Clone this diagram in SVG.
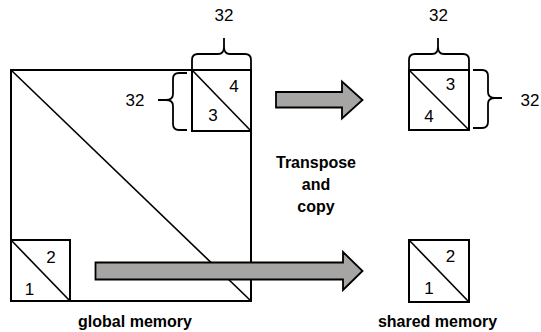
<svg xmlns="http://www.w3.org/2000/svg" width="541" height="332" viewBox="0 0 541 332">
  <style>
    .box { fill: #ffffff; stroke: #000000; stroke-width: 2; }
    .diag { fill: none; stroke: #000000; stroke-width: 1.6; }
    .brace { fill: none; stroke: #000000; stroke-width: 1.8; stroke-linejoin: round; }
    .num { font-family: "Liberation Sans", Arial, sans-serif; font-size: 17px; fill: #000000; text-anchor: middle; }
    .cap { font-family: "Liberation Sans", Arial, sans-serif; font-size: 16px; font-weight: bold; fill: #000000; text-anchor: middle; }
    .arrow { fill: #a7a4a4; stroke: #000000; stroke-width: 1.8; stroke-linejoin: miter; }
  </style>

  <!-- global memory matrix -->
  <g id="global-memory">
    <rect class="box" x="11" y="70" width="240" height="231"/>
    <line class="diag" x1="11" y1="70" x2="251" y2="301"/>
    <text class="cap" x="135" y="327">global memory</text>
  </g>

  <!-- tile 3/4 in the top-right corner of global memory -->
  <g id="global-tile-34">
    <rect class="box" x="192" y="70" width="59" height="61"/>
    <line class="diag" x1="192" y1="70" x2="251" y2="131"/>
    <text class="num" x="234" y="92">4</text>
    <text class="num" x="213" y="121">3</text>
    <path class="brace" d="M192,69 L192,60 Q192,54 198,54 L218,54 Q224,54 224,47 L224,38 M224,47 Q224,54 230,54 L245,54 Q251,54 251,60 L251,69"/>
    <text class="num" x="224" y="21">32</text>
    <path class="brace" d="M187,73 L179,73 Q173,73 173,79 L173,94 Q173,100 166,100 L158,100 M166,100 Q173,100 173,106 L173,124 Q173,130 179,130 L187,130"/>
    <text class="num" x="135" y="106">32</text>
  </g>

  <!-- tile 1/2 in the bottom-left corner of global memory -->
  <g id="global-tile-12">
    <rect class="box" x="11" y="240" width="59" height="61"/>
    <line class="diag" x1="11" y1="240" x2="70" y2="301"/>
    <text class="num" x="51" y="263">2</text>
    <text class="num" x="29.5" y="295">1</text>
  </g>

  <!-- shared memory tile holding 3/4 transposed -->
  <g id="shared-tile-34">
    <rect class="box" x="409" y="70" width="60" height="60"/>
    <line class="diag" x1="409" y1="70" x2="469" y2="130"/>
    <text class="num" x="450.5" y="90">3</text>
    <text class="num" x="429" y="122">4</text>
    <path class="brace" d="M409,69 L409,60 Q409,54 415,54 L432,54 Q438,54 438,47 L438,38 M438,47 Q438,54 444,54 L463,54 Q469,54 469,60 L469,69"/>
    <text class="num" x="438.5" y="21">32</text>
    <path class="brace" d="M473,70 L482,70 Q488,70 488,76 L488,92 Q488,98 495,98 L502,98 M495,98 Q488,98 488,104 L488,122 Q488,128 482,128 L473,128"/>
    <text class="num" x="530" y="106">32</text>
  </g>

  <!-- shared memory tile holding 1/2 -->
  <g id="shared-tile-12">
    <rect class="box" x="409" y="240" width="60" height="62"/>
    <line class="diag" x1="409" y1="240" x2="469" y2="302"/>
    <text class="num" x="450.5" y="262">2</text>
    <text class="num" x="429" y="294">1</text>
    <text class="cap" x="437.5" y="327">shared memory</text>
  </g>

  <!-- copy arrows -->
  <g id="connectors">
    <path class="arrow" d="M276,92 L342,92 L342,81.5 L362.5,100 L342,118.5 L342,107.5 L276,107.5 Z"/>
    <path class="arrow" d="M95.5,262.5 L343,262.5 L343,252 L362.5,271 L343,290 L343,279.5 L95.5,279.5 Z"/>
  </g>

  <!-- operation label -->
  <g id="label-transpose">
    <text class="cap" x="316" y="168">Transpose</text>
    <text class="cap" x="316" y="189.5">and</text>
    <text class="cap" x="316" y="212">copy</text>
  </g>
</svg>
